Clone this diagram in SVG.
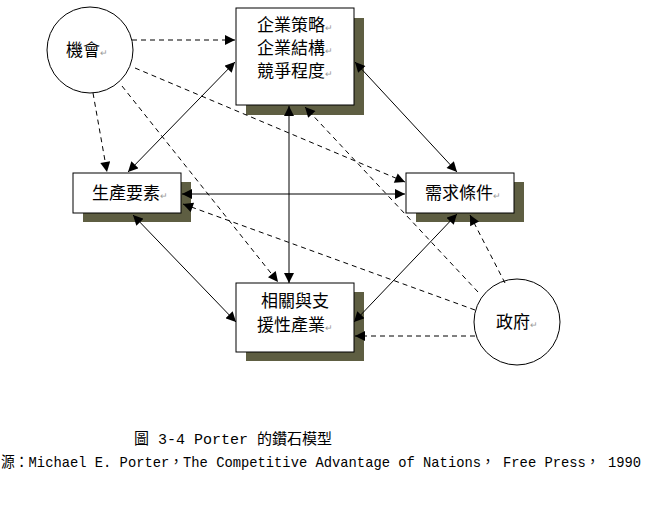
<svg xmlns="http://www.w3.org/2000/svg" width="652" height="527" viewBox="0 0 652 527">
<style>
.box{fill:#fff;stroke:#000;stroke-width:1}
.sh{fill:#5e5e42}
.t{font-family:"Noto Sans CJK TC","Noto Sans CJK SC",sans-serif;font-size:17px;fill:#000}
.pm{font-size:9px;fill:#999}
.cap{font-family:"Liberation Mono","Noto Sans CJK TC",monospace;font-size:15px;fill:#000}
</style>
<defs>
<marker id="a" viewBox="0 0 10 10" refX="10" refY="5" markerWidth="11" markerHeight="10" orient="auto" markerUnits="userSpaceOnUse"><path d="M0,0 L10,5 L0,10 z" fill="#000"/></marker>
<marker id="b" viewBox="0 0 10 10" refX="0" refY="5" markerWidth="11" markerHeight="10" orient="auto" markerUnits="userSpaceOnUse"><path d="M10,0 L0,5 L10,10 z" fill="#000"/></marker>
</defs>
<rect width="652" height="527" fill="#fff"/>
<g id="chance"><circle cx="90" cy="50" r="43" class="box"/><text x="87" y="56" class="t" text-anchor="middle">機會<tspan class="pm">↵</tspan></text></g>
<g id="strategy"><rect x="246" y="18" width="118" height="97" class="sh"/><rect x="236" y="8" width="118" height="97" class="box"/>
<text class="t" text-anchor="middle"><tspan x="295" y="31">企業策略<tspan class="pm">↵</tspan></tspan><tspan x="295" y="54">企業結構<tspan class="pm">↵</tspan></tspan><tspan x="295" y="77">競爭程度<tspan class="pm">↵</tspan></tspan></text></g>
<g id="factor"><rect x="83" y="182" width="108" height="40" class="sh"/><rect x="73" y="173" width="108" height="40" class="box"/><text x="130" y="199" class="t" text-anchor="middle">生產要素<tspan class="pm">↵</tspan></text></g>
<g id="demand"><rect x="416" y="182" width="108" height="40" class="sh"/><rect x="406" y="173" width="108" height="40" class="box"/><text x="463" y="199" class="t" text-anchor="middle">需求條件<tspan class="pm">↵</tspan></text></g>
<g id="related"><rect x="246" y="292" width="118" height="69" class="sh"/><rect x="236" y="283" width="118" height="69" class="box"/>
<text class="t" text-anchor="middle"><tspan x="295" y="307">相關與支</tspan><tspan x="295" y="331">援性產業<tspan class="pm">↵</tspan></tspan></text></g>
<g id="gov"><circle cx="517" cy="322" r="43" class="box"/><text x="517" y="328" class="t" text-anchor="middle">政府<tspan class="pm">↵</tspan></text></g>
<g id="connectors" stroke="#000" stroke-width="1" fill="none">
<g marker-start="url(#b)" marker-end="url(#a)">
<line x1="235" y1="62" x2="128" y2="172"/>
<line x1="182" y1="194" x2="405" y2="194"/>
<line x1="133" y1="215" x2="236" y2="322"/>
<line x1="289" y1="106" x2="289" y2="283"/>
<line x1="355" y1="62" x2="457" y2="172"/>
<line x1="457" y1="214" x2="354" y2="322"/>
</g>
<g stroke-dasharray="5 4" marker-end="url(#a)">
<line x1="132" y1="40" x2="235" y2="40"/>
<line x1="93" y1="93" x2="107" y2="172"/>
<line x1="122" y1="86" x2="278" y2="282"/>
<line x1="135" y1="68" x2="405" y2="182"/>
<line x1="505" y1="283" x2="470" y2="215"/>
<line x1="478" y1="292" x2="305" y2="107"/>
<line x1="475" y1="310" x2="183" y2="204"/>
<line x1="475" y1="336" x2="355" y2="336"/>
</g>
</g>
<text x="134" y="444" class="cap">圖 3-4  Porter 的鑽石模型</text>
<text x="1" y="467" class="cap" textLength="640" lengthAdjust="spacingAndGlyphs">源：Michael E. Porter，The Competitive Advantage of Nations， Free Press， 1990</text>
</svg>
